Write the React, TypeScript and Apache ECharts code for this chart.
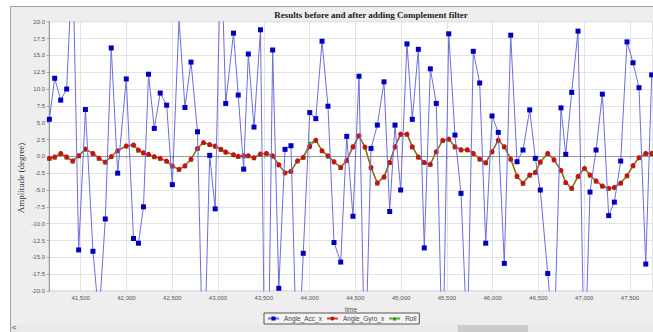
import React, { useEffect, useRef } from "react";
import * as echarts from "echarts";

const times = [
  41158, 41216, 41282, 41347, 41413, 41478, 41552, 41634, 41700, 41769,
  41834, 41904, 41998, 42077, 42131, 42186, 42241, 42304, 42369, 42439,
  42501, 42574, 42639, 42705, 42776, 42841, 42909, 42969, 43032, 43084,
  43169, 43221, 43280, 43331, 43393, 43464, 43529, 43597, 43664, 43732,
  43797, 43868, 43931, 44002, 44068, 44136, 44201, 44267, 44340, 44406,
  44474, 44540, 44605, 44671, 44740, 44813, 44875, 44933, 44995, 45064,
  45122, 45188, 45253, 45319, 45384, 45454, 45520, 45588, 45654, 45723,
  45788, 45858, 45924, 45993, 46061, 46127, 46197, 46266, 46331, 46404,
  46466, 46520, 46601, 46670, 46746, 46798, 46863, 46932, 47003, 47063,
  47129, 47198, 47267, 47329, 47398, 47467, 47533, 47598, 47672, 47737,
];

const angleAcc = [
  5.5, 11.6, 8.35, 10.0, 30, -13.9, 6.95, -14.1, -24, -9.3,
  16.1, -2.5, 11.5, -12.2, -12.9, -7.5, 12.2, 4.15, 9.4, 7.6,
  -4.2, 20.3, 7.26, 14.0, 3.65, -35, 0.15, -7.8, 32, 7.86,
  18.3, 9.1, -1.9, 15.2, 4.35, 18.8, -52, 15.8, -19.6, 1.04,
  1.58, -34, -14.4, 6.5, 5.6, 17.1, 7.45, -12.8, -15.7, 2.97,
  -8.9, 11.9, -33, 1.18, 4.64, 11.07, -8.2, 4.64, -5.0, 16.7,
  5.5, 15.9, -13.6, 13.0, 7.86, -32, 18.2, 3.16, -5.5, -28,
  15.6, 10.9, -12.9, 6.0, 3.56, -15.9, 18.0, -0.8, 0.94, 6.9,
  -0.3, -5.0, -17.4, -28, 7.2, 0.3, 9.5, 18.6, -32, -5.3,
  0.94, 9.24, -8.8, -6.8, -0.7, 17.0, 13.9, 10.2, -16.0, 12.1,
];

const angleGyro = [
  -0.3, -0.1, 0.44, -0.1, -0.68, 0.1, 1.08, 0.44, -0.28, -0.85,
  -0.03, 0.84, 1.55, 1.68, 0.93, 0.54, 0.29, -0.05, -0.3, -0.7,
  -1.42, -1.93, -1.41, -0.42, 1.18, 2.05, 1.75, 1.52, 1.05, 0.65,
  0.25, 0.0, 0.1, 0.1, -0.2, 0.35, 0.45, 0.07, -1.25, -2.45,
  -2.2, -0.67, -0.15, 1.43, 2.4, 0.84, 0.07, -0.8, -1.64, -0.6,
  1.43, 3.06, 1.38, -1.64, -3.95, -3.05, -0.9, 1.43, 3.3, 3.3,
  1.43, -0.1, -0.9, -1.19, 0.69, 2.37, 2.57, 1.43, 0.98, 0.98,
  0.44, -0.4, -0.94, 0.69, 2.42, 1.43, -0.4, -2.95, -4.0, -2.77,
  -2.38, -0.84, 0.44, -0.5, -2.08, -3.9, -4.75, -2.97, -1.78, -2.77,
  -3.66, -4.4, -4.75, -4.6, -3.96, -2.87, -1.38, -0.2, 0.44, 0.44,
];

const roll = [
  -0.3, -0.1, 0.44, -0.1, -0.68, 0.1, 1.08, 0.44, -0.28, -0.85,
  -0.03, 0.84, 1.55, 1.68, 0.93, 0.54, 0.29, -0.05, -0.3, -0.7,
  -1.42, -1.93, -1.41, -0.42, 1.18, 2.05, 1.75, 1.52, 1.05, 0.65,
  0.25, 0.0, 0.1, 0.1, -0.2, 0.35, 0.45, 0.07, -1.25, -2.45,
  -2.2, -0.67, -0.15, 1.9, 2.4, 0.84, 0.07, -0.8, -1.64, -0.6,
  1.43, 3.06, 1.38, -1.64, -3.95, -3.05, -0.9, 1.43, 3.3, 3.3,
  1.43, -0.1, -0.9, -1.19, 0.69, 2.37, 2.57, 1.43, 0.98, 0.98,
  0.44, -0.4, -0.94, 0.69, 2.42, 1.43, -0.4, -2.95, -4.0, -2.77,
  -2.38, -0.84, 0.44, -0.5, -2.08, -3.9, -4.75, -2.97, -1.78, -2.77,
  -3.66, -4.4, -4.75, -4.6, -3.96, -2.87, -1.38, -0.2, 0.44, 0.44,
];

const xTicks = [41500, 42000, 42500, 43000, 43500, 44000, 44500, 45000, 45500, 46000, 46500, 47000, 47500];

const titleText = "Results before and after adding Complement filter";
const yName = "Amplitude (degree)";
const xName = "time";
const seriesNames = ["Angle_Acc_x", "Angle_Gyro_x", "Roll"];

const SANS = '"Liberation Sans", Arial, sans-serif';
const SERIF = '"Liberation Serif", "Times New Roman", serif';

function pairs(vals: number[]) {
  return times.map((t, i) => [t, vals[i]]);
}

export default function App() {
  const ref = useRef<HTMLDivElement>(null);
  useEffect(() => {
    const chart = echarts.init(ref.current!, null, { renderer: "svg" });
    chart.setOption({
      animation: false,
      backgroundColor: "transparent",
      grid: {
        left: 49,
        top: 21.7,
        right: 0,
        bottom: 41,
        show: true,
        backgroundColor: "#ffffff",
        borderColor: "#c4c4c4",
        borderWidth: 1,
      },
      graphic: [
        {
          type: "text",
          x: 371,
          y: 15,
          style: {
            text: titleText,
            fontSize: 9,
            fontWeight: "bold",
            fontFamily: SERIF,
            fill: "#1a1a1a",
            align: "center",
            verticalAlign: "middle",
          },
        },
        {
          type: "text",
          x: 21,
          y: 178,
          rotation: Math.PI / 2,
          style: {
            text: yName,
            fontSize: 9,
            fontFamily: SERIF,
            fill: "#333",
            align: "center",
            verticalAlign: "middle",
          },
        },
      ],
      legend: {
        left: 264,
        top: 313,
        orient: "horizontal",
        data: seriesNames,
        borderColor: "#555",
        borderWidth: 1,
        backgroundColor: "#f4f4f4",
        padding: [2, 3],
        itemGap: 4,
        itemWidth: 11,
        itemHeight: 5,
        textStyle: { fontSize: 6.5, color: "#444", fontFamily: SANS },
      },
      xAxis: {
        type: "value",
        min: 41154,
        max: 47751,
        name: xName,
        nameLocation: "middle",
        nameGap: 7,
        nameTextStyle: { fontSize: 6.5, color: "#555", fontFamily: SANS, verticalAlign: "top", padding: [4, 0, 0, 0] },
        axisLine: { show: true, lineStyle: { color: "#9a9a9a", width: 1 } },
        axisTick: { show: true, length: 2, customValues: xTicks, lineStyle: { color: "#9a9a9a" } },
        axisLabel: {
          customValues: xTicks,
          fontSize: 6,
          color: "#555",
          fontFamily: SANS,
          margin: 4,
          formatter: (v: number) => v.toLocaleString("en-US"),
        },
        splitLine: { show: true, lineStyle: { color: "#e2e2e2", width: 1 } },
      },
      yAxis: {
        type: "value",
        min: -20,
        max: 20,
        interval: 2.5,
        axisLine: { show: true, lineStyle: { color: "#9a9a9a", width: 1 } },
        axisTick: { show: true, length: 2, lineStyle: { color: "#9a9a9a" } },
        axisLabel: {
          fontSize: 6,
          color: "#555",
          fontFamily: SANS,
          margin: 4,
          formatter: (v: number) => v.toFixed(1),
        },
        splitLine: { show: true, lineStyle: { color: "#e2e2e2", width: 1 } },
      },
      series: [
        {
          name: seriesNames[0],
          type: "line",
          data: pairs(angleAcc),
          z: 5,
          symbol: "rect",
          symbolSize: 5,
          showAllSymbol: true,
          itemStyle: { color: "#0000c4" },
          lineStyle: { color: "#6c6ce0", width: 1 },
        },
        {
          name: seriesNames[1],
          type: "line",
          data: pairs(angleGyro),
          z: 4,
          symbol: "circle",
          symbolSize: 5,
          showAllSymbol: true,
          itemStyle: { color: "#cc1010" },
          lineStyle: { color: "#c04a24", width: 1 },
        },
        {
          name: seriesNames[2],
          type: "line",
          data: pairs(roll),
          z: 3,
          symbol: "triangle",
          symbolSize: 5,
          showAllSymbol: true,
          itemStyle: { color: "#10a010" },
          lineStyle: { color: "#5aa830", width: 1.6 },
        },
      ],
    });
    return () => chart.dispose();
  }, []);

  return (
    <div style={{ position: "fixed", left: 0, top: 0, width: 653, height: 332, background: "#ffffff", overflow: "hidden" }}>
      <div
        style={{
          position: "absolute",
          left: 10,
          top: 6,
          width: 643,
          height: 326,
          background: "#eeeeee",
          borderLeft: "1px solid #a0a0a0",
          borderTop: "1px solid #a0a0a0",
          boxSizing: "border-box",
        }}
      />
      <div style={{ position: "absolute", left: 11, top: 325, width: 642, height: 7, background: "#e9e9e9" }} />
      <div style={{ position: "absolute", left: 458, top: 325, width: 70, height: 7, background: "#cbcbcb" }} />
      <div
        style={{
          position: "absolute",
          left: 12,
          top: 323,
          fontSize: 8,
          lineHeight: "9px",
          color: "#444",
          fontFamily: SANS,
        }}
      >
        {"<"}
      </div>
      <div ref={ref} style={{ position: "absolute", left: 0, top: 0, width: 653, height: 332 }} />
    </div>
  );
}
